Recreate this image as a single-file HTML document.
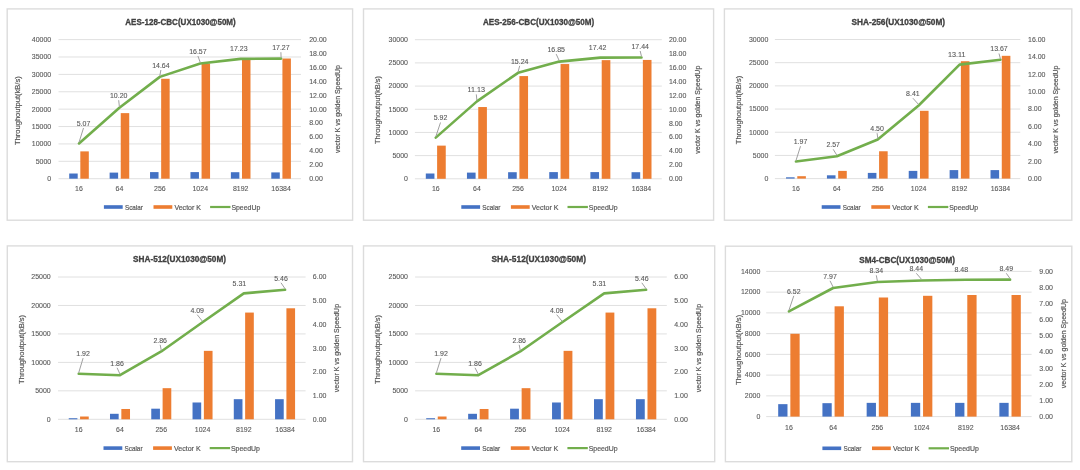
<!DOCTYPE html>
<html><head><meta charset="utf-8"><title>Charts</title>
<style>html,body{margin:0;padding:0;background:#fff;width:1080px;height:470px;overflow:hidden;position:relative}</style>
</head><body>
<svg width="1080" height="470" viewBox="0 0 1080 470" style="position:absolute;left:0;top:0;display:block;filter:blur(0.45px)">
<rect x="0" y="0" width="1080" height="470" fill="#fff"/>
<rect x="7.20" y="8.90" width="345.40" height="211.30" fill="#fff" stroke="#dcdcdc" stroke-width="1.4"/>
<text x="125.3" y="25.3" font-family='"Liberation Sans", sans-serif' font-size="8.4" font-weight="bold" fill="#404040" stroke="#404040" stroke-width="0.3" textLength="110.4" lengthAdjust="spacingAndGlyphs">AES-128-CBC(UX1030@50M)</text>
<line x1="58.5" y1="178.70" x2="301.0" y2="178.70" stroke="#e0e0e0" stroke-width="1"/>
<text x="51.20" y="181.05" text-anchor="end" font-family='"Liberation Sans", sans-serif' font-size="8.1" fill="#595959" stroke="#595959" stroke-width="0.12" textLength="3.89" lengthAdjust="spacingAndGlyphs">0</text>
<line x1="58.5" y1="161.31" x2="301.0" y2="161.31" stroke="#e0e0e0" stroke-width="1"/>
<text x="51.20" y="163.66" text-anchor="end" font-family='"Liberation Sans", sans-serif' font-size="8.1" fill="#595959" stroke="#595959" stroke-width="0.12" textLength="15.57" lengthAdjust="spacingAndGlyphs">5000</text>
<line x1="58.5" y1="143.92" x2="301.0" y2="143.92" stroke="#e0e0e0" stroke-width="1"/>
<text x="51.20" y="146.27" text-anchor="end" font-family='"Liberation Sans", sans-serif' font-size="8.1" fill="#595959" stroke="#595959" stroke-width="0.12" textLength="19.46" lengthAdjust="spacingAndGlyphs">10000</text>
<line x1="58.5" y1="126.54" x2="301.0" y2="126.54" stroke="#e0e0e0" stroke-width="1"/>
<text x="51.20" y="128.89" text-anchor="end" font-family='"Liberation Sans", sans-serif' font-size="8.1" fill="#595959" stroke="#595959" stroke-width="0.12" textLength="19.46" lengthAdjust="spacingAndGlyphs">15000</text>
<line x1="58.5" y1="109.15" x2="301.0" y2="109.15" stroke="#e0e0e0" stroke-width="1"/>
<text x="51.20" y="111.50" text-anchor="end" font-family='"Liberation Sans", sans-serif' font-size="8.1" fill="#595959" stroke="#595959" stroke-width="0.12" textLength="19.46" lengthAdjust="spacingAndGlyphs">20000</text>
<line x1="58.5" y1="91.76" x2="301.0" y2="91.76" stroke="#e0e0e0" stroke-width="1"/>
<text x="51.20" y="94.11" text-anchor="end" font-family='"Liberation Sans", sans-serif' font-size="8.1" fill="#595959" stroke="#595959" stroke-width="0.12" textLength="19.46" lengthAdjust="spacingAndGlyphs">25000</text>
<line x1="58.5" y1="74.38" x2="301.0" y2="74.38" stroke="#e0e0e0" stroke-width="1"/>
<text x="51.20" y="76.72" text-anchor="end" font-family='"Liberation Sans", sans-serif' font-size="8.1" fill="#595959" stroke="#595959" stroke-width="0.12" textLength="19.46" lengthAdjust="spacingAndGlyphs">30000</text>
<line x1="58.5" y1="56.99" x2="301.0" y2="56.99" stroke="#e0e0e0" stroke-width="1"/>
<text x="51.20" y="59.34" text-anchor="end" font-family='"Liberation Sans", sans-serif' font-size="8.1" fill="#595959" stroke="#595959" stroke-width="0.12" textLength="19.46" lengthAdjust="spacingAndGlyphs">35000</text>
<line x1="58.5" y1="39.60" x2="301.0" y2="39.60" stroke="#e0e0e0" stroke-width="1"/>
<text x="51.20" y="41.95" text-anchor="end" font-family='"Liberation Sans", sans-serif' font-size="8.1" fill="#595959" stroke="#595959" stroke-width="0.12" textLength="19.46" lengthAdjust="spacingAndGlyphs">40000</text>
<text x="309.20" y="181.05" font-family='"Liberation Sans", sans-serif' font-size="8.1" fill="#595959" stroke="#595959" stroke-width="0.12" textLength="13.62" lengthAdjust="spacingAndGlyphs">0.00</text>
<text x="309.20" y="167.14" font-family='"Liberation Sans", sans-serif' font-size="8.1" fill="#595959" stroke="#595959" stroke-width="0.12" textLength="13.62" lengthAdjust="spacingAndGlyphs">2.00</text>
<text x="309.20" y="153.23" font-family='"Liberation Sans", sans-serif' font-size="8.1" fill="#595959" stroke="#595959" stroke-width="0.12" textLength="13.62" lengthAdjust="spacingAndGlyphs">4.00</text>
<text x="309.20" y="139.32" font-family='"Liberation Sans", sans-serif' font-size="8.1" fill="#595959" stroke="#595959" stroke-width="0.12" textLength="13.62" lengthAdjust="spacingAndGlyphs">6.00</text>
<text x="309.20" y="125.41" font-family='"Liberation Sans", sans-serif' font-size="8.1" fill="#595959" stroke="#595959" stroke-width="0.12" textLength="13.62" lengthAdjust="spacingAndGlyphs">8.00</text>
<text x="309.20" y="111.50" font-family='"Liberation Sans", sans-serif' font-size="8.1" fill="#595959" stroke="#595959" stroke-width="0.12" textLength="17.51" lengthAdjust="spacingAndGlyphs">10.00</text>
<text x="309.20" y="97.59" font-family='"Liberation Sans", sans-serif' font-size="8.1" fill="#595959" stroke="#595959" stroke-width="0.12" textLength="17.51" lengthAdjust="spacingAndGlyphs">12.00</text>
<text x="309.20" y="83.68" font-family='"Liberation Sans", sans-serif' font-size="8.1" fill="#595959" stroke="#595959" stroke-width="0.12" textLength="17.51" lengthAdjust="spacingAndGlyphs">14.00</text>
<text x="309.20" y="69.77" font-family='"Liberation Sans", sans-serif' font-size="8.1" fill="#595959" stroke="#595959" stroke-width="0.12" textLength="17.51" lengthAdjust="spacingAndGlyphs">16.00</text>
<text x="309.20" y="55.86" font-family='"Liberation Sans", sans-serif' font-size="8.1" fill="#595959" stroke="#595959" stroke-width="0.12" textLength="17.51" lengthAdjust="spacingAndGlyphs">18.00</text>
<text x="309.20" y="41.95" font-family='"Liberation Sans", sans-serif' font-size="8.1" fill="#595959" stroke="#595959" stroke-width="0.12" textLength="17.51" lengthAdjust="spacingAndGlyphs">20.00</text>
<rect x="69.21" y="173.51" width="8.49" height="5.19" fill="#4472c4"/>
<rect x="80.32" y="151.38" width="8.49" height="27.32" fill="#ed7d31"/>
<text x="79.01" y="191.15" text-anchor="middle" font-family='"Liberation Sans", sans-serif' font-size="8.1" fill="#595959" stroke="#595959" stroke-width="0.12" textLength="7.78" lengthAdjust="spacingAndGlyphs">16</text>
<rect x="109.62" y="172.61" width="8.49" height="6.09" fill="#4472c4"/>
<rect x="120.74" y="113.13" width="8.49" height="65.57" fill="#ed7d31"/>
<text x="119.42" y="191.15" text-anchor="middle" font-family='"Liberation Sans", sans-serif' font-size="8.1" fill="#595959" stroke="#595959" stroke-width="0.12" textLength="7.78" lengthAdjust="spacingAndGlyphs">64</text>
<rect x="150.04" y="172.11" width="8.49" height="6.59" fill="#4472c4"/>
<rect x="161.16" y="78.77" width="8.49" height="99.93" fill="#ed7d31"/>
<text x="159.84" y="191.15" text-anchor="middle" font-family='"Liberation Sans", sans-serif' font-size="8.1" fill="#595959" stroke="#595959" stroke-width="0.12" textLength="11.68" lengthAdjust="spacingAndGlyphs">256</text>
<rect x="190.46" y="172.11" width="8.49" height="6.59" fill="#4472c4"/>
<rect x="201.57" y="63.43" width="8.49" height="115.27" fill="#ed7d31"/>
<text x="200.26" y="191.15" text-anchor="middle" font-family='"Liberation Sans", sans-serif' font-size="8.1" fill="#595959" stroke="#595959" stroke-width="0.12" textLength="15.57" lengthAdjust="spacingAndGlyphs">1024</text>
<rect x="230.87" y="172.21" width="8.49" height="6.49" fill="#4472c4"/>
<rect x="241.99" y="59.11" width="8.49" height="119.59" fill="#ed7d31"/>
<text x="240.68" y="191.15" text-anchor="middle" font-family='"Liberation Sans", sans-serif' font-size="8.1" fill="#595959" stroke="#595959" stroke-width="0.12" textLength="15.57" lengthAdjust="spacingAndGlyphs">8192</text>
<rect x="271.29" y="172.41" width="8.49" height="6.29" fill="#4472c4"/>
<rect x="282.41" y="58.51" width="8.49" height="120.19" fill="#ed7d31"/>
<text x="281.09" y="191.15" text-anchor="middle" font-family='"Liberation Sans", sans-serif' font-size="8.1" fill="#595959" stroke="#595959" stroke-width="0.12" textLength="19.46" lengthAdjust="spacingAndGlyphs">16384</text>
<polyline points="79.01,143.44 119.42,107.76 159.84,76.88 200.26,63.46 240.68,58.87 281.09,58.59" fill="none" stroke="#72ae4c" stroke-width="2.6" stroke-linejoin="round" stroke-linecap="round"/>
<text x="83.50" y="125.85" text-anchor="middle" font-family='"Liberation Sans", sans-serif' font-size="8.1" fill="#595959" stroke="#595959" stroke-width="0.12" textLength="13.62" lengthAdjust="spacingAndGlyphs">5.07</text>
<line x1="79.0" y1="142.4" x2="83.5" y2="128.0" stroke="#a0a0a0" stroke-width="1.0"/>
<text x="118.70" y="98.05" text-anchor="middle" font-family='"Liberation Sans", sans-serif' font-size="8.1" fill="#595959" stroke="#595959" stroke-width="0.12" textLength="17.51" lengthAdjust="spacingAndGlyphs">10.20</text>
<line x1="119.4" y1="106.8" x2="118.7" y2="100.2" stroke="#a0a0a0" stroke-width="1.0"/>
<text x="160.90" y="67.85" text-anchor="middle" font-family='"Liberation Sans", sans-serif' font-size="8.1" fill="#595959" stroke="#595959" stroke-width="0.12" textLength="17.51" lengthAdjust="spacingAndGlyphs">14.64</text>
<line x1="159.8" y1="75.9" x2="160.9" y2="70.0" stroke="#a0a0a0" stroke-width="1.0"/>
<text x="197.90" y="53.85" text-anchor="middle" font-family='"Liberation Sans", sans-serif' font-size="8.1" fill="#595959" stroke="#595959" stroke-width="0.12" textLength="17.51" lengthAdjust="spacingAndGlyphs">16.57</text>
<line x1="200.3" y1="62.5" x2="197.9" y2="56.0" stroke="#a0a0a0" stroke-width="1.0"/>
<text x="238.80" y="51.25" text-anchor="middle" font-family='"Liberation Sans", sans-serif' font-size="8.1" fill="#595959" stroke="#595959" stroke-width="0.12" textLength="17.51" lengthAdjust="spacingAndGlyphs">17.23</text>
<text x="280.90" y="50.05" text-anchor="middle" font-family='"Liberation Sans", sans-serif' font-size="8.1" fill="#595959" stroke="#595959" stroke-width="0.12" textLength="17.51" lengthAdjust="spacingAndGlyphs">17.27</text>
<line x1="281.1" y1="57.6" x2="280.9" y2="52.2" stroke="#a0a0a0" stroke-width="1.0"/>
<text transform="translate(19.5,110.6) rotate(-90)" x="0" y="0" text-anchor="middle" font-family='"Liberation Sans", sans-serif' font-size="7.6" fill="#595959" stroke="#595959" stroke-width="0.2" textLength="68.7" lengthAdjust="spacingAndGlyphs">Throughoutput(kB/s)</text>
<text transform="translate(339.5,109.1) rotate(-90)" x="0" y="0" text-anchor="middle" font-family='"Liberation Sans", sans-serif' font-size="7.3" fill="#595959" stroke="#595959" stroke-width="0.2" textLength="87.8" lengthAdjust="spacingAndGlyphs">vector K vs golden SpeedUp</text>
<rect x="103.9" y="205.2" width="18.8" height="3.6" fill="#4472c4"/>
<text x="124.9" y="209.5" font-family='"Liberation Sans", sans-serif' font-size="7.4" fill="#595959" stroke="#595959" stroke-width="0.2" textLength="18" lengthAdjust="spacingAndGlyphs">Scalar</text>
<rect x="153.5" y="205.2" width="18.8" height="3.6" fill="#ed7d31"/>
<text x="174.4" y="209.5" font-family='"Liberation Sans", sans-serif' font-size="7.4" fill="#595959" stroke="#595959" stroke-width="0.2" textLength="26.6" lengthAdjust="spacingAndGlyphs">Vector K</text>
<line x1="210.1" y1="207.0" x2="230.5" y2="207.0" stroke="#72ae4c" stroke-width="2.2"/>
<text x="231.4" y="209.5" font-family='"Liberation Sans", sans-serif' font-size="7.4" fill="#595959" stroke="#595959" stroke-width="0.2" textLength="28.9" lengthAdjust="spacingAndGlyphs">SpeedUp</text>
<rect x="363.50" y="8.90" width="350.10" height="211.30" fill="#fff" stroke="#dcdcdc" stroke-width="1.4"/>
<text x="483.0" y="25.3" font-family='"Liberation Sans", sans-serif' font-size="8.4" font-weight="bold" fill="#404040" stroke="#404040" stroke-width="0.3" textLength="111.2" lengthAdjust="spacingAndGlyphs">AES-256-CBC(UX1030@50M)</text>
<line x1="414.9" y1="178.80" x2="661.8" y2="178.80" stroke="#e0e0e0" stroke-width="1"/>
<text x="408.00" y="181.15" text-anchor="end" font-family='"Liberation Sans", sans-serif' font-size="8.1" fill="#595959" stroke="#595959" stroke-width="0.12" textLength="3.89" lengthAdjust="spacingAndGlyphs">0</text>
<line x1="414.9" y1="155.62" x2="661.8" y2="155.62" stroke="#e0e0e0" stroke-width="1"/>
<text x="408.00" y="157.97" text-anchor="end" font-family='"Liberation Sans", sans-serif' font-size="8.1" fill="#595959" stroke="#595959" stroke-width="0.12" textLength="15.57" lengthAdjust="spacingAndGlyphs">5000</text>
<line x1="414.9" y1="132.43" x2="661.8" y2="132.43" stroke="#e0e0e0" stroke-width="1"/>
<text x="408.00" y="134.78" text-anchor="end" font-family='"Liberation Sans", sans-serif' font-size="8.1" fill="#595959" stroke="#595959" stroke-width="0.12" textLength="19.46" lengthAdjust="spacingAndGlyphs">10000</text>
<line x1="414.9" y1="109.25" x2="661.8" y2="109.25" stroke="#e0e0e0" stroke-width="1"/>
<text x="408.00" y="111.60" text-anchor="end" font-family='"Liberation Sans", sans-serif' font-size="8.1" fill="#595959" stroke="#595959" stroke-width="0.12" textLength="19.46" lengthAdjust="spacingAndGlyphs">15000</text>
<line x1="414.9" y1="86.07" x2="661.8" y2="86.07" stroke="#e0e0e0" stroke-width="1"/>
<text x="408.00" y="88.42" text-anchor="end" font-family='"Liberation Sans", sans-serif' font-size="8.1" fill="#595959" stroke="#595959" stroke-width="0.12" textLength="19.46" lengthAdjust="spacingAndGlyphs">20000</text>
<line x1="414.9" y1="62.88" x2="661.8" y2="62.88" stroke="#e0e0e0" stroke-width="1"/>
<text x="408.00" y="65.23" text-anchor="end" font-family='"Liberation Sans", sans-serif' font-size="8.1" fill="#595959" stroke="#595959" stroke-width="0.12" textLength="19.46" lengthAdjust="spacingAndGlyphs">25000</text>
<line x1="414.9" y1="39.70" x2="661.8" y2="39.70" stroke="#e0e0e0" stroke-width="1"/>
<text x="408.00" y="42.05" text-anchor="end" font-family='"Liberation Sans", sans-serif' font-size="8.1" fill="#595959" stroke="#595959" stroke-width="0.12" textLength="19.46" lengthAdjust="spacingAndGlyphs">30000</text>
<text x="668.90" y="181.15" font-family='"Liberation Sans", sans-serif' font-size="8.1" fill="#595959" stroke="#595959" stroke-width="0.12" textLength="13.62" lengthAdjust="spacingAndGlyphs">0.00</text>
<text x="668.90" y="167.24" font-family='"Liberation Sans", sans-serif' font-size="8.1" fill="#595959" stroke="#595959" stroke-width="0.12" textLength="13.62" lengthAdjust="spacingAndGlyphs">2.00</text>
<text x="668.90" y="153.33" font-family='"Liberation Sans", sans-serif' font-size="8.1" fill="#595959" stroke="#595959" stroke-width="0.12" textLength="13.62" lengthAdjust="spacingAndGlyphs">4.00</text>
<text x="668.90" y="139.42" font-family='"Liberation Sans", sans-serif' font-size="8.1" fill="#595959" stroke="#595959" stroke-width="0.12" textLength="13.62" lengthAdjust="spacingAndGlyphs">6.00</text>
<text x="668.90" y="125.51" font-family='"Liberation Sans", sans-serif' font-size="8.1" fill="#595959" stroke="#595959" stroke-width="0.12" textLength="13.62" lengthAdjust="spacingAndGlyphs">8.00</text>
<text x="668.90" y="111.60" font-family='"Liberation Sans", sans-serif' font-size="8.1" fill="#595959" stroke="#595959" stroke-width="0.12" textLength="17.51" lengthAdjust="spacingAndGlyphs">10.00</text>
<text x="668.90" y="97.69" font-family='"Liberation Sans", sans-serif' font-size="8.1" fill="#595959" stroke="#595959" stroke-width="0.12" textLength="17.51" lengthAdjust="spacingAndGlyphs">12.00</text>
<text x="668.90" y="83.78" font-family='"Liberation Sans", sans-serif' font-size="8.1" fill="#595959" stroke="#595959" stroke-width="0.12" textLength="17.51" lengthAdjust="spacingAndGlyphs">14.00</text>
<text x="668.90" y="69.87" font-family='"Liberation Sans", sans-serif' font-size="8.1" fill="#595959" stroke="#595959" stroke-width="0.12" textLength="17.51" lengthAdjust="spacingAndGlyphs">16.00</text>
<text x="668.90" y="55.96" font-family='"Liberation Sans", sans-serif' font-size="8.1" fill="#595959" stroke="#595959" stroke-width="0.12" textLength="17.51" lengthAdjust="spacingAndGlyphs">18.00</text>
<text x="668.90" y="42.05" font-family='"Liberation Sans", sans-serif' font-size="8.1" fill="#595959" stroke="#595959" stroke-width="0.12" textLength="17.51" lengthAdjust="spacingAndGlyphs">20.00</text>
<rect x="425.80" y="173.50" width="8.64" height="5.30" fill="#4472c4"/>
<rect x="437.11" y="145.63" width="8.64" height="33.17" fill="#ed7d31"/>
<text x="435.77" y="191.25" text-anchor="middle" font-family='"Liberation Sans", sans-serif' font-size="8.1" fill="#595959" stroke="#595959" stroke-width="0.12" textLength="7.78" lengthAdjust="spacingAndGlyphs">16</text>
<rect x="466.95" y="172.61" width="8.64" height="6.19" fill="#4472c4"/>
<rect x="478.26" y="107.04" width="8.64" height="71.76" fill="#ed7d31"/>
<text x="476.93" y="191.25" text-anchor="middle" font-family='"Liberation Sans", sans-serif' font-size="8.1" fill="#595959" stroke="#595959" stroke-width="0.12" textLength="7.78" lengthAdjust="spacingAndGlyphs">64</text>
<rect x="508.10" y="172.21" width="8.64" height="6.59" fill="#4472c4"/>
<rect x="519.41" y="76.08" width="8.64" height="102.72" fill="#ed7d31"/>
<text x="518.07" y="191.25" text-anchor="middle" font-family='"Liberation Sans", sans-serif' font-size="8.1" fill="#595959" stroke="#595959" stroke-width="0.12" textLength="11.68" lengthAdjust="spacingAndGlyphs">256</text>
<rect x="549.25" y="172.10" width="8.64" height="6.70" fill="#4472c4"/>
<rect x="560.56" y="64.05" width="8.64" height="114.75" fill="#ed7d31"/>
<text x="559.22" y="191.25" text-anchor="middle" font-family='"Liberation Sans", sans-serif' font-size="8.1" fill="#595959" stroke="#595959" stroke-width="0.12" textLength="15.57" lengthAdjust="spacingAndGlyphs">1024</text>
<rect x="590.40" y="172.10" width="8.64" height="6.70" fill="#4472c4"/>
<rect x="601.71" y="60.15" width="8.64" height="118.65" fill="#ed7d31"/>
<text x="600.37" y="191.25" text-anchor="middle" font-family='"Liberation Sans", sans-serif' font-size="8.1" fill="#595959" stroke="#595959" stroke-width="0.12" textLength="15.57" lengthAdjust="spacingAndGlyphs">8192</text>
<rect x="631.55" y="172.21" width="8.64" height="6.59" fill="#4472c4"/>
<rect x="642.86" y="59.94" width="8.64" height="118.86" fill="#ed7d31"/>
<text x="641.52" y="191.25" text-anchor="middle" font-family='"Liberation Sans", sans-serif' font-size="8.1" fill="#595959" stroke="#595959" stroke-width="0.12" textLength="19.46" lengthAdjust="spacingAndGlyphs">16384</text>
<polyline points="435.77,137.63 476.93,101.39 518.07,72.81 559.22,61.61 600.37,57.64 641.52,57.50" fill="none" stroke="#72ae4c" stroke-width="2.6" stroke-linejoin="round" stroke-linecap="round"/>
<text x="440.50" y="120.35" text-anchor="middle" font-family='"Liberation Sans", sans-serif' font-size="8.1" fill="#595959" stroke="#595959" stroke-width="0.12" textLength="13.62" lengthAdjust="spacingAndGlyphs">5.92</text>
<line x1="435.8" y1="136.6" x2="440.5" y2="122.5" stroke="#a0a0a0" stroke-width="1.0"/>
<text x="476.30" y="92.25" text-anchor="middle" font-family='"Liberation Sans", sans-serif' font-size="8.1" fill="#595959" stroke="#595959" stroke-width="0.12" textLength="17.51" lengthAdjust="spacingAndGlyphs">11.13</text>
<line x1="476.9" y1="100.4" x2="476.3" y2="94.4" stroke="#a0a0a0" stroke-width="1.0"/>
<text x="519.70" y="63.65" text-anchor="middle" font-family='"Liberation Sans", sans-serif' font-size="8.1" fill="#595959" stroke="#595959" stroke-width="0.12" textLength="17.51" lengthAdjust="spacingAndGlyphs">15.24</text>
<line x1="518.1" y1="71.8" x2="519.7" y2="65.8" stroke="#a0a0a0" stroke-width="1.0"/>
<text x="556.20" y="51.95" text-anchor="middle" font-family='"Liberation Sans", sans-serif' font-size="8.1" fill="#595959" stroke="#595959" stroke-width="0.12" textLength="17.51" lengthAdjust="spacingAndGlyphs">16.85</text>
<line x1="559.2" y1="60.6" x2="556.2" y2="54.1" stroke="#a0a0a0" stroke-width="1.0"/>
<text x="597.60" y="49.65" text-anchor="middle" font-family='"Liberation Sans", sans-serif' font-size="8.1" fill="#595959" stroke="#595959" stroke-width="0.12" textLength="17.51" lengthAdjust="spacingAndGlyphs">17.42</text>
<text x="640.20" y="48.85" text-anchor="middle" font-family='"Liberation Sans", sans-serif' font-size="8.1" fill="#595959" stroke="#595959" stroke-width="0.12" textLength="17.51" lengthAdjust="spacingAndGlyphs">17.44</text>
<line x1="641.5" y1="56.5" x2="640.2" y2="51.0" stroke="#a0a0a0" stroke-width="1.0"/>
<text transform="translate(380.2,110.0) rotate(-90)" x="0" y="0" text-anchor="middle" font-family='"Liberation Sans", sans-serif' font-size="7.6" fill="#595959" stroke="#595959" stroke-width="0.2" textLength="68.0" lengthAdjust="spacingAndGlyphs">Throughoutput(kB/s)</text>
<text transform="translate(699.5,109.8) rotate(-90)" x="0" y="0" text-anchor="middle" font-family='"Liberation Sans", sans-serif' font-size="7.3" fill="#595959" stroke="#595959" stroke-width="0.2" textLength="88.1" lengthAdjust="spacingAndGlyphs">vector K vs golden SpeedUp</text>
<rect x="461.3" y="205.2" width="18.8" height="3.6" fill="#4472c4"/>
<text x="482.3" y="209.5" font-family='"Liberation Sans", sans-serif' font-size="7.4" fill="#595959" stroke="#595959" stroke-width="0.2" textLength="18" lengthAdjust="spacingAndGlyphs">Scalar</text>
<rect x="510.9" y="205.2" width="18.8" height="3.6" fill="#ed7d31"/>
<text x="531.8" y="209.5" font-family='"Liberation Sans", sans-serif' font-size="7.4" fill="#595959" stroke="#595959" stroke-width="0.2" textLength="26.6" lengthAdjust="spacingAndGlyphs">Vector K</text>
<line x1="567.5" y1="207.0" x2="587.9" y2="207.0" stroke="#72ae4c" stroke-width="2.2"/>
<text x="588.8" y="209.5" font-family='"Liberation Sans", sans-serif' font-size="7.4" fill="#595959" stroke="#595959" stroke-width="0.2" textLength="28.9" lengthAdjust="spacingAndGlyphs">SpeedUp</text>
<rect x="724.40" y="8.90" width="347.40" height="211.30" fill="#fff" stroke="#dcdcdc" stroke-width="1.4"/>
<text x="851.4" y="25.3" font-family='"Liberation Sans", sans-serif' font-size="8.4" font-weight="bold" fill="#404040" stroke="#404040" stroke-width="0.3" textLength="93.7" lengthAdjust="spacingAndGlyphs">SHA-256(UX1030@50M)</text>
<line x1="774.9" y1="178.60" x2="1020.3" y2="178.60" stroke="#e0e0e0" stroke-width="1"/>
<text x="768.40" y="180.95" text-anchor="end" font-family='"Liberation Sans", sans-serif' font-size="8.1" fill="#595959" stroke="#595959" stroke-width="0.12" textLength="3.89" lengthAdjust="spacingAndGlyphs">0</text>
<line x1="774.9" y1="155.42" x2="1020.3" y2="155.42" stroke="#e0e0e0" stroke-width="1"/>
<text x="768.40" y="157.77" text-anchor="end" font-family='"Liberation Sans", sans-serif' font-size="8.1" fill="#595959" stroke="#595959" stroke-width="0.12" textLength="15.57" lengthAdjust="spacingAndGlyphs">5000</text>
<line x1="774.9" y1="132.23" x2="1020.3" y2="132.23" stroke="#e0e0e0" stroke-width="1"/>
<text x="768.40" y="134.58" text-anchor="end" font-family='"Liberation Sans", sans-serif' font-size="8.1" fill="#595959" stroke="#595959" stroke-width="0.12" textLength="19.46" lengthAdjust="spacingAndGlyphs">10000</text>
<line x1="774.9" y1="109.05" x2="1020.3" y2="109.05" stroke="#e0e0e0" stroke-width="1"/>
<text x="768.40" y="111.40" text-anchor="end" font-family='"Liberation Sans", sans-serif' font-size="8.1" fill="#595959" stroke="#595959" stroke-width="0.12" textLength="19.46" lengthAdjust="spacingAndGlyphs">15000</text>
<line x1="774.9" y1="85.87" x2="1020.3" y2="85.87" stroke="#e0e0e0" stroke-width="1"/>
<text x="768.40" y="88.22" text-anchor="end" font-family='"Liberation Sans", sans-serif' font-size="8.1" fill="#595959" stroke="#595959" stroke-width="0.12" textLength="19.46" lengthAdjust="spacingAndGlyphs">20000</text>
<line x1="774.9" y1="62.68" x2="1020.3" y2="62.68" stroke="#e0e0e0" stroke-width="1"/>
<text x="768.40" y="65.03" text-anchor="end" font-family='"Liberation Sans", sans-serif' font-size="8.1" fill="#595959" stroke="#595959" stroke-width="0.12" textLength="19.46" lengthAdjust="spacingAndGlyphs">25000</text>
<line x1="774.9" y1="39.50" x2="1020.3" y2="39.50" stroke="#e0e0e0" stroke-width="1"/>
<text x="768.40" y="41.85" text-anchor="end" font-family='"Liberation Sans", sans-serif' font-size="8.1" fill="#595959" stroke="#595959" stroke-width="0.12" textLength="19.46" lengthAdjust="spacingAndGlyphs">30000</text>
<text x="1028.00" y="180.95" font-family='"Liberation Sans", sans-serif' font-size="8.1" fill="#595959" stroke="#595959" stroke-width="0.12" textLength="13.62" lengthAdjust="spacingAndGlyphs">0.00</text>
<text x="1028.00" y="163.56" font-family='"Liberation Sans", sans-serif' font-size="8.1" fill="#595959" stroke="#595959" stroke-width="0.12" textLength="13.62" lengthAdjust="spacingAndGlyphs">2.00</text>
<text x="1028.00" y="146.17" font-family='"Liberation Sans", sans-serif' font-size="8.1" fill="#595959" stroke="#595959" stroke-width="0.12" textLength="13.62" lengthAdjust="spacingAndGlyphs">4.00</text>
<text x="1028.00" y="128.79" font-family='"Liberation Sans", sans-serif' font-size="8.1" fill="#595959" stroke="#595959" stroke-width="0.12" textLength="13.62" lengthAdjust="spacingAndGlyphs">6.00</text>
<text x="1028.00" y="111.40" font-family='"Liberation Sans", sans-serif' font-size="8.1" fill="#595959" stroke="#595959" stroke-width="0.12" textLength="13.62" lengthAdjust="spacingAndGlyphs">8.00</text>
<text x="1028.00" y="94.01" font-family='"Liberation Sans", sans-serif' font-size="8.1" fill="#595959" stroke="#595959" stroke-width="0.12" textLength="17.51" lengthAdjust="spacingAndGlyphs">10.00</text>
<text x="1028.00" y="76.62" font-family='"Liberation Sans", sans-serif' font-size="8.1" fill="#595959" stroke="#595959" stroke-width="0.12" textLength="17.51" lengthAdjust="spacingAndGlyphs">12.00</text>
<text x="1028.00" y="59.24" font-family='"Liberation Sans", sans-serif' font-size="8.1" fill="#595959" stroke="#595959" stroke-width="0.12" textLength="17.51" lengthAdjust="spacingAndGlyphs">14.00</text>
<text x="1028.00" y="41.85" font-family='"Liberation Sans", sans-serif' font-size="8.1" fill="#595959" stroke="#595959" stroke-width="0.12" textLength="17.51" lengthAdjust="spacingAndGlyphs">16.00</text>
<rect x="786.03" y="177.30" width="8.59" height="1.30" fill="#4472c4"/>
<rect x="797.28" y="176.20" width="8.59" height="2.40" fill="#ed7d31"/>
<text x="795.95" y="191.25" text-anchor="middle" font-family='"Liberation Sans", sans-serif' font-size="8.1" fill="#595959" stroke="#595959" stroke-width="0.12" textLength="7.78" lengthAdjust="spacingAndGlyphs">16</text>
<rect x="826.93" y="175.30" width="8.59" height="3.30" fill="#4472c4"/>
<rect x="838.18" y="170.89" width="8.59" height="7.71" fill="#ed7d31"/>
<text x="836.85" y="191.25" text-anchor="middle" font-family='"Liberation Sans", sans-serif' font-size="8.1" fill="#595959" stroke="#595959" stroke-width="0.12" textLength="7.78" lengthAdjust="spacingAndGlyphs">64</text>
<rect x="867.83" y="172.90" width="8.59" height="5.70" fill="#4472c4"/>
<rect x="879.08" y="151.26" width="8.59" height="27.34" fill="#ed7d31"/>
<text x="877.75" y="191.25" text-anchor="middle" font-family='"Liberation Sans", sans-serif' font-size="8.1" fill="#595959" stroke="#595959" stroke-width="0.12" textLength="11.68" lengthAdjust="spacingAndGlyphs">256</text>
<rect x="908.73" y="170.89" width="8.59" height="7.71" fill="#4472c4"/>
<rect x="919.98" y="110.80" width="8.59" height="67.80" fill="#ed7d31"/>
<text x="918.65" y="191.25" text-anchor="middle" font-family='"Liberation Sans", sans-serif' font-size="8.1" fill="#595959" stroke="#595959" stroke-width="0.12" textLength="15.57" lengthAdjust="spacingAndGlyphs">1024</text>
<rect x="949.63" y="170.10" width="8.59" height="8.50" fill="#4472c4"/>
<rect x="960.88" y="61.23" width="8.59" height="117.37" fill="#ed7d31"/>
<text x="959.55" y="191.25" text-anchor="middle" font-family='"Liberation Sans", sans-serif' font-size="8.1" fill="#595959" stroke="#595959" stroke-width="0.12" textLength="15.57" lengthAdjust="spacingAndGlyphs">8192</text>
<rect x="990.53" y="170.10" width="8.59" height="8.50" fill="#4472c4"/>
<rect x="1001.78" y="55.83" width="8.59" height="122.77" fill="#ed7d31"/>
<text x="1000.45" y="191.25" text-anchor="middle" font-family='"Liberation Sans", sans-serif' font-size="8.1" fill="#595959" stroke="#595959" stroke-width="0.12" textLength="19.46" lengthAdjust="spacingAndGlyphs">16384</text>
<polyline points="795.95,161.47 836.85,156.26 877.75,139.48 918.65,105.49 959.55,64.62 1000.45,59.76" fill="none" stroke="#72ae4c" stroke-width="2.6" stroke-linejoin="round" stroke-linecap="round"/>
<text x="800.50" y="144.05" text-anchor="middle" font-family='"Liberation Sans", sans-serif' font-size="8.1" fill="#595959" stroke="#595959" stroke-width="0.12" textLength="13.62" lengthAdjust="spacingAndGlyphs">1.97</text>
<line x1="796.0" y1="160.5" x2="800.5" y2="146.2" stroke="#a0a0a0" stroke-width="1.0"/>
<text x="833.20" y="147.15" text-anchor="middle" font-family='"Liberation Sans", sans-serif' font-size="8.1" fill="#595959" stroke="#595959" stroke-width="0.12" textLength="13.62" lengthAdjust="spacingAndGlyphs">2.57</text>
<line x1="836.9" y1="155.3" x2="833.2" y2="149.3" stroke="#a0a0a0" stroke-width="1.0"/>
<text x="877.10" y="131.05" text-anchor="middle" font-family='"Liberation Sans", sans-serif' font-size="8.1" fill="#595959" stroke="#595959" stroke-width="0.12" textLength="13.62" lengthAdjust="spacingAndGlyphs">4.50</text>
<line x1="877.8" y1="138.5" x2="877.1" y2="133.2" stroke="#a0a0a0" stroke-width="1.0"/>
<text x="912.90" y="96.05" text-anchor="middle" font-family='"Liberation Sans", sans-serif' font-size="8.1" fill="#595959" stroke="#595959" stroke-width="0.12" textLength="13.62" lengthAdjust="spacingAndGlyphs">8.41</text>
<line x1="918.6" y1="104.5" x2="912.9" y2="98.2" stroke="#a0a0a0" stroke-width="1.0"/>
<text x="956.80" y="57.25" text-anchor="middle" font-family='"Liberation Sans", sans-serif' font-size="8.1" fill="#595959" stroke="#595959" stroke-width="0.12" textLength="17.51" lengthAdjust="spacingAndGlyphs">13.11</text>
<text x="999.00" y="51.35" text-anchor="middle" font-family='"Liberation Sans", sans-serif' font-size="8.1" fill="#595959" stroke="#595959" stroke-width="0.12" textLength="17.51" lengthAdjust="spacingAndGlyphs">13.67</text>
<line x1="1000.4" y1="58.8" x2="999.0" y2="53.5" stroke="#a0a0a0" stroke-width="1.0"/>
<text transform="translate(740.5,110.0) rotate(-90)" x="0" y="0" text-anchor="middle" font-family='"Liberation Sans", sans-serif' font-size="7.6" fill="#595959" stroke="#595959" stroke-width="0.2" textLength="68.4" lengthAdjust="spacingAndGlyphs">Throughoutput(kB/s)</text>
<text transform="translate(1058.3,109.6) rotate(-90)" x="0" y="0" text-anchor="middle" font-family='"Liberation Sans", sans-serif' font-size="7.3" fill="#595959" stroke="#595959" stroke-width="0.2" textLength="88.0" lengthAdjust="spacingAndGlyphs">vector K vs golden SpeedUp</text>
<rect x="821.7" y="205.2" width="18.8" height="3.6" fill="#4472c4"/>
<text x="842.7" y="209.5" font-family='"Liberation Sans", sans-serif' font-size="7.4" fill="#595959" stroke="#595959" stroke-width="0.2" textLength="18" lengthAdjust="spacingAndGlyphs">Scalar</text>
<rect x="871.3" y="205.2" width="18.8" height="3.6" fill="#ed7d31"/>
<text x="892.2" y="209.5" font-family='"Liberation Sans", sans-serif' font-size="7.4" fill="#595959" stroke="#595959" stroke-width="0.2" textLength="26.6" lengthAdjust="spacingAndGlyphs">Vector K</text>
<line x1="927.9" y1="207.0" x2="948.3" y2="207.0" stroke="#72ae4c" stroke-width="2.2"/>
<text x="949.2" y="209.5" font-family='"Liberation Sans", sans-serif' font-size="7.4" fill="#595959" stroke="#595959" stroke-width="0.2" textLength="28.9" lengthAdjust="spacingAndGlyphs">SpeedUp</text>
<rect x="7.30" y="245.90" width="345.20" height="215.80" fill="#fff" stroke="#dcdcdc" stroke-width="1.4"/>
<text x="133.1" y="262.3" font-family='"Liberation Sans", sans-serif' font-size="8.4" font-weight="bold" fill="#404040" stroke="#404040" stroke-width="0.3" textLength="92.9" lengthAdjust="spacingAndGlyphs">SHA-512(UX1030@50M)</text>
<line x1="58.0" y1="419.30" x2="305.6" y2="419.30" stroke="#e0e0e0" stroke-width="1"/>
<text x="50.70" y="421.65" text-anchor="end" font-family='"Liberation Sans", sans-serif' font-size="8.1" fill="#595959" stroke="#595959" stroke-width="0.12" textLength="3.89" lengthAdjust="spacingAndGlyphs">0</text>
<line x1="58.0" y1="390.84" x2="305.6" y2="390.84" stroke="#e0e0e0" stroke-width="1"/>
<text x="50.70" y="393.19" text-anchor="end" font-family='"Liberation Sans", sans-serif' font-size="8.1" fill="#595959" stroke="#595959" stroke-width="0.12" textLength="15.57" lengthAdjust="spacingAndGlyphs">5000</text>
<line x1="58.0" y1="362.38" x2="305.6" y2="362.38" stroke="#e0e0e0" stroke-width="1"/>
<text x="50.70" y="364.73" text-anchor="end" font-family='"Liberation Sans", sans-serif' font-size="8.1" fill="#595959" stroke="#595959" stroke-width="0.12" textLength="19.46" lengthAdjust="spacingAndGlyphs">10000</text>
<line x1="58.0" y1="333.92" x2="305.6" y2="333.92" stroke="#e0e0e0" stroke-width="1"/>
<text x="50.70" y="336.27" text-anchor="end" font-family='"Liberation Sans", sans-serif' font-size="8.1" fill="#595959" stroke="#595959" stroke-width="0.12" textLength="19.46" lengthAdjust="spacingAndGlyphs">15000</text>
<line x1="58.0" y1="305.46" x2="305.6" y2="305.46" stroke="#e0e0e0" stroke-width="1"/>
<text x="50.70" y="307.81" text-anchor="end" font-family='"Liberation Sans", sans-serif' font-size="8.1" fill="#595959" stroke="#595959" stroke-width="0.12" textLength="19.46" lengthAdjust="spacingAndGlyphs">20000</text>
<line x1="58.0" y1="277.00" x2="305.6" y2="277.00" stroke="#e0e0e0" stroke-width="1"/>
<text x="50.70" y="279.35" text-anchor="end" font-family='"Liberation Sans", sans-serif' font-size="8.1" fill="#595959" stroke="#595959" stroke-width="0.12" textLength="19.46" lengthAdjust="spacingAndGlyphs">25000</text>
<text x="312.80" y="421.65" font-family='"Liberation Sans", sans-serif' font-size="8.1" fill="#595959" stroke="#595959" stroke-width="0.12" textLength="13.62" lengthAdjust="spacingAndGlyphs">0.00</text>
<text x="312.80" y="397.93" font-family='"Liberation Sans", sans-serif' font-size="8.1" fill="#595959" stroke="#595959" stroke-width="0.12" textLength="13.62" lengthAdjust="spacingAndGlyphs">1.00</text>
<text x="312.80" y="374.22" font-family='"Liberation Sans", sans-serif' font-size="8.1" fill="#595959" stroke="#595959" stroke-width="0.12" textLength="13.62" lengthAdjust="spacingAndGlyphs">2.00</text>
<text x="312.80" y="350.50" font-family='"Liberation Sans", sans-serif' font-size="8.1" fill="#595959" stroke="#595959" stroke-width="0.12" textLength="13.62" lengthAdjust="spacingAndGlyphs">3.00</text>
<text x="312.80" y="326.78" font-family='"Liberation Sans", sans-serif' font-size="8.1" fill="#595959" stroke="#595959" stroke-width="0.12" textLength="13.62" lengthAdjust="spacingAndGlyphs">4.00</text>
<text x="312.80" y="303.07" font-family='"Liberation Sans", sans-serif' font-size="8.1" fill="#595959" stroke="#595959" stroke-width="0.12" textLength="13.62" lengthAdjust="spacingAndGlyphs">5.00</text>
<text x="312.80" y="279.35" font-family='"Liberation Sans", sans-serif' font-size="8.1" fill="#595959" stroke="#595959" stroke-width="0.12" textLength="13.62" lengthAdjust="spacingAndGlyphs">6.00</text>
<rect x="68.73" y="418.22" width="8.67" height="1.08" fill="#4472c4"/>
<rect x="80.07" y="416.51" width="8.67" height="2.79" fill="#ed7d31"/>
<text x="78.73" y="431.75" text-anchor="middle" font-family='"Liberation Sans", sans-serif' font-size="8.1" fill="#595959" stroke="#595959" stroke-width="0.12" textLength="7.78" lengthAdjust="spacingAndGlyphs">16</text>
<rect x="109.99" y="413.80" width="8.67" height="5.50" fill="#4472c4"/>
<rect x="121.34" y="408.99" width="8.67" height="10.31" fill="#ed7d31"/>
<text x="120.00" y="431.75" text-anchor="middle" font-family='"Liberation Sans", sans-serif' font-size="8.1" fill="#595959" stroke="#595959" stroke-width="0.12" textLength="7.78" lengthAdjust="spacingAndGlyphs">64</text>
<rect x="151.26" y="408.69" width="8.67" height="10.61" fill="#4472c4"/>
<rect x="162.61" y="388.18" width="8.67" height="31.12" fill="#ed7d31"/>
<text x="161.27" y="431.75" text-anchor="middle" font-family='"Liberation Sans", sans-serif' font-size="8.1" fill="#595959" stroke="#595959" stroke-width="0.12" textLength="11.68" lengthAdjust="spacingAndGlyphs">256</text>
<rect x="192.53" y="402.49" width="8.67" height="16.81" fill="#4472c4"/>
<rect x="203.87" y="350.85" width="8.67" height="68.45" fill="#ed7d31"/>
<text x="202.53" y="431.75" text-anchor="middle" font-family='"Liberation Sans", sans-serif' font-size="8.1" fill="#595959" stroke="#595959" stroke-width="0.12" textLength="15.57" lengthAdjust="spacingAndGlyphs">1024</text>
<rect x="233.79" y="399.18" width="8.67" height="20.12" fill="#4472c4"/>
<rect x="245.14" y="312.57" width="8.67" height="106.73" fill="#ed7d31"/>
<text x="243.80" y="431.75" text-anchor="middle" font-family='"Liberation Sans", sans-serif' font-size="8.1" fill="#595959" stroke="#595959" stroke-width="0.12" textLength="15.57" lengthAdjust="spacingAndGlyphs">8192</text>
<rect x="275.06" y="399.18" width="8.67" height="20.12" fill="#4472c4"/>
<rect x="286.41" y="308.28" width="8.67" height="111.02" fill="#ed7d31"/>
<text x="285.07" y="431.75" text-anchor="middle" font-family='"Liberation Sans", sans-serif' font-size="8.1" fill="#595959" stroke="#595959" stroke-width="0.12" textLength="19.46" lengthAdjust="spacingAndGlyphs">16384</text>
<polyline points="78.73,373.76 120.00,375.19 161.27,351.47 202.53,322.30 243.80,293.36 285.07,289.81" fill="none" stroke="#72ae4c" stroke-width="2.6" stroke-linejoin="round" stroke-linecap="round"/>
<text x="83.10" y="355.95" text-anchor="middle" font-family='"Liberation Sans", sans-serif' font-size="8.1" fill="#595959" stroke="#595959" stroke-width="0.12" textLength="13.62" lengthAdjust="spacingAndGlyphs">1.92</text>
<line x1="78.7" y1="372.8" x2="83.1" y2="358.1" stroke="#a0a0a0" stroke-width="1.0"/>
<text x="117.10" y="365.65" text-anchor="middle" font-family='"Liberation Sans", sans-serif' font-size="8.1" fill="#595959" stroke="#595959" stroke-width="0.12" textLength="13.62" lengthAdjust="spacingAndGlyphs">1.86</text>
<line x1="120.0" y1="374.2" x2="117.1" y2="367.8" stroke="#a0a0a0" stroke-width="1.0"/>
<text x="160.20" y="342.65" text-anchor="middle" font-family='"Liberation Sans", sans-serif' font-size="8.1" fill="#595959" stroke="#595959" stroke-width="0.12" textLength="13.62" lengthAdjust="spacingAndGlyphs">2.86</text>
<line x1="161.3" y1="350.5" x2="160.2" y2="344.8" stroke="#a0a0a0" stroke-width="1.0"/>
<text x="197.20" y="312.55" text-anchor="middle" font-family='"Liberation Sans", sans-serif' font-size="8.1" fill="#595959" stroke="#595959" stroke-width="0.12" textLength="13.62" lengthAdjust="spacingAndGlyphs">4.09</text>
<line x1="202.5" y1="321.3" x2="197.2" y2="314.7" stroke="#a0a0a0" stroke-width="1.0"/>
<text x="239.40" y="285.75" text-anchor="middle" font-family='"Liberation Sans", sans-serif' font-size="8.1" fill="#595959" stroke="#595959" stroke-width="0.12" textLength="13.62" lengthAdjust="spacingAndGlyphs">5.31</text>
<text x="281.00" y="280.65" text-anchor="middle" font-family='"Liberation Sans", sans-serif' font-size="8.1" fill="#595959" stroke="#595959" stroke-width="0.12" textLength="13.62" lengthAdjust="spacingAndGlyphs">5.46</text>
<line x1="285.1" y1="288.8" x2="281.0" y2="282.8" stroke="#a0a0a0" stroke-width="1.0"/>
<text transform="translate(24.2,349.4) rotate(-90)" x="0" y="0" text-anchor="middle" font-family='"Liberation Sans", sans-serif' font-size="7.6" fill="#595959" stroke="#595959" stroke-width="0.2" textLength="69.1" lengthAdjust="spacingAndGlyphs">Throughoutput(kB/s)</text>
<text transform="translate(339.0,348.1) rotate(-90)" x="0" y="0" text-anchor="middle" font-family='"Liberation Sans", sans-serif' font-size="7.3" fill="#595959" stroke="#595959" stroke-width="0.2" textLength="88.2" lengthAdjust="spacingAndGlyphs">vector K vs golden SpeedUp</text>
<rect x="103.5" y="446.3" width="18.8" height="3.6" fill="#4472c4"/>
<text x="124.5" y="450.6" font-family='"Liberation Sans", sans-serif' font-size="7.4" fill="#595959" stroke="#595959" stroke-width="0.2" textLength="18" lengthAdjust="spacingAndGlyphs">Scalar</text>
<rect x="153.1" y="446.3" width="18.8" height="3.6" fill="#ed7d31"/>
<text x="174.0" y="450.6" font-family='"Liberation Sans", sans-serif' font-size="7.4" fill="#595959" stroke="#595959" stroke-width="0.2" textLength="26.6" lengthAdjust="spacingAndGlyphs">Vector K</text>
<line x1="209.7" y1="448.1" x2="230.1" y2="448.1" stroke="#72ae4c" stroke-width="2.2"/>
<text x="231.0" y="450.6" font-family='"Liberation Sans", sans-serif' font-size="7.4" fill="#595959" stroke="#595959" stroke-width="0.2" textLength="28.9" lengthAdjust="spacingAndGlyphs">SpeedUp</text>
<rect x="363.50" y="245.90" width="351.20" height="215.80" fill="#fff" stroke="#dcdcdc" stroke-width="1.4"/>
<text x="491.4" y="262.3" font-family='"Liberation Sans", sans-serif' font-size="8.4" font-weight="bold" fill="#404040" stroke="#404040" stroke-width="0.3" textLength="94.6" lengthAdjust="spacingAndGlyphs">SHA-512(UX1030@50M)</text>
<line x1="415.1" y1="419.30" x2="666.8" y2="419.30" stroke="#e0e0e0" stroke-width="1"/>
<text x="408.00" y="421.65" text-anchor="end" font-family='"Liberation Sans", sans-serif' font-size="8.1" fill="#595959" stroke="#595959" stroke-width="0.12" textLength="3.89" lengthAdjust="spacingAndGlyphs">0</text>
<line x1="415.1" y1="390.84" x2="666.8" y2="390.84" stroke="#e0e0e0" stroke-width="1"/>
<text x="408.00" y="393.19" text-anchor="end" font-family='"Liberation Sans", sans-serif' font-size="8.1" fill="#595959" stroke="#595959" stroke-width="0.12" textLength="15.57" lengthAdjust="spacingAndGlyphs">5000</text>
<line x1="415.1" y1="362.38" x2="666.8" y2="362.38" stroke="#e0e0e0" stroke-width="1"/>
<text x="408.00" y="364.73" text-anchor="end" font-family='"Liberation Sans", sans-serif' font-size="8.1" fill="#595959" stroke="#595959" stroke-width="0.12" textLength="19.46" lengthAdjust="spacingAndGlyphs">10000</text>
<line x1="415.1" y1="333.92" x2="666.8" y2="333.92" stroke="#e0e0e0" stroke-width="1"/>
<text x="408.00" y="336.27" text-anchor="end" font-family='"Liberation Sans", sans-serif' font-size="8.1" fill="#595959" stroke="#595959" stroke-width="0.12" textLength="19.46" lengthAdjust="spacingAndGlyphs">15000</text>
<line x1="415.1" y1="305.46" x2="666.8" y2="305.46" stroke="#e0e0e0" stroke-width="1"/>
<text x="408.00" y="307.81" text-anchor="end" font-family='"Liberation Sans", sans-serif' font-size="8.1" fill="#595959" stroke="#595959" stroke-width="0.12" textLength="19.46" lengthAdjust="spacingAndGlyphs">20000</text>
<line x1="415.1" y1="277.00" x2="666.8" y2="277.00" stroke="#e0e0e0" stroke-width="1"/>
<text x="408.00" y="279.35" text-anchor="end" font-family='"Liberation Sans", sans-serif' font-size="8.1" fill="#595959" stroke="#595959" stroke-width="0.12" textLength="19.46" lengthAdjust="spacingAndGlyphs">25000</text>
<text x="674.20" y="421.65" font-family='"Liberation Sans", sans-serif' font-size="8.1" fill="#595959" stroke="#595959" stroke-width="0.12" textLength="13.62" lengthAdjust="spacingAndGlyphs">0.00</text>
<text x="674.20" y="397.93" font-family='"Liberation Sans", sans-serif' font-size="8.1" fill="#595959" stroke="#595959" stroke-width="0.12" textLength="13.62" lengthAdjust="spacingAndGlyphs">1.00</text>
<text x="674.20" y="374.22" font-family='"Liberation Sans", sans-serif' font-size="8.1" fill="#595959" stroke="#595959" stroke-width="0.12" textLength="13.62" lengthAdjust="spacingAndGlyphs">2.00</text>
<text x="674.20" y="350.50" font-family='"Liberation Sans", sans-serif' font-size="8.1" fill="#595959" stroke="#595959" stroke-width="0.12" textLength="13.62" lengthAdjust="spacingAndGlyphs">3.00</text>
<text x="674.20" y="326.78" font-family='"Liberation Sans", sans-serif' font-size="8.1" fill="#595959" stroke="#595959" stroke-width="0.12" textLength="13.62" lengthAdjust="spacingAndGlyphs">4.00</text>
<text x="674.20" y="303.07" font-family='"Liberation Sans", sans-serif' font-size="8.1" fill="#595959" stroke="#595959" stroke-width="0.12" textLength="13.62" lengthAdjust="spacingAndGlyphs">5.00</text>
<text x="674.20" y="279.35" font-family='"Liberation Sans", sans-serif' font-size="8.1" fill="#595959" stroke="#595959" stroke-width="0.12" textLength="13.62" lengthAdjust="spacingAndGlyphs">6.00</text>
<rect x="426.20" y="418.22" width="8.81" height="1.08" fill="#4472c4"/>
<rect x="437.74" y="416.51" width="8.81" height="2.79" fill="#ed7d31"/>
<text x="436.38" y="431.75" text-anchor="middle" font-family='"Liberation Sans", sans-serif' font-size="8.1" fill="#595959" stroke="#595959" stroke-width="0.12" textLength="7.78" lengthAdjust="spacingAndGlyphs">16</text>
<rect x="468.15" y="413.80" width="8.81" height="5.50" fill="#4472c4"/>
<rect x="479.69" y="408.99" width="8.81" height="10.31" fill="#ed7d31"/>
<text x="478.32" y="431.75" text-anchor="middle" font-family='"Liberation Sans", sans-serif' font-size="8.1" fill="#595959" stroke="#595959" stroke-width="0.12" textLength="7.78" lengthAdjust="spacingAndGlyphs">64</text>
<rect x="510.10" y="408.69" width="8.81" height="10.61" fill="#4472c4"/>
<rect x="521.64" y="388.18" width="8.81" height="31.12" fill="#ed7d31"/>
<text x="520.27" y="431.75" text-anchor="middle" font-family='"Liberation Sans", sans-serif' font-size="8.1" fill="#595959" stroke="#595959" stroke-width="0.12" textLength="11.68" lengthAdjust="spacingAndGlyphs">256</text>
<rect x="552.05" y="402.49" width="8.81" height="16.81" fill="#4472c4"/>
<rect x="563.59" y="350.85" width="8.81" height="68.45" fill="#ed7d31"/>
<text x="562.22" y="431.75" text-anchor="middle" font-family='"Liberation Sans", sans-serif' font-size="8.1" fill="#595959" stroke="#595959" stroke-width="0.12" textLength="15.57" lengthAdjust="spacingAndGlyphs">1024</text>
<rect x="594.00" y="399.18" width="8.81" height="20.12" fill="#4472c4"/>
<rect x="605.54" y="312.57" width="8.81" height="106.73" fill="#ed7d31"/>
<text x="604.17" y="431.75" text-anchor="middle" font-family='"Liberation Sans", sans-serif' font-size="8.1" fill="#595959" stroke="#595959" stroke-width="0.12" textLength="15.57" lengthAdjust="spacingAndGlyphs">8192</text>
<rect x="635.95" y="399.18" width="8.81" height="20.12" fill="#4472c4"/>
<rect x="647.49" y="308.28" width="8.81" height="111.02" fill="#ed7d31"/>
<text x="646.12" y="431.75" text-anchor="middle" font-family='"Liberation Sans", sans-serif' font-size="8.1" fill="#595959" stroke="#595959" stroke-width="0.12" textLength="19.46" lengthAdjust="spacingAndGlyphs">16384</text>
<polyline points="436.38,373.76 478.32,375.19 520.27,351.47 562.22,322.30 604.17,293.36 646.12,289.81" fill="none" stroke="#72ae4c" stroke-width="2.6" stroke-linejoin="round" stroke-linecap="round"/>
<text x="441.00" y="355.95" text-anchor="middle" font-family='"Liberation Sans", sans-serif' font-size="8.1" fill="#595959" stroke="#595959" stroke-width="0.12" textLength="13.62" lengthAdjust="spacingAndGlyphs">1.92</text>
<line x1="436.4" y1="372.8" x2="441.0" y2="358.1" stroke="#a0a0a0" stroke-width="1.0"/>
<text x="475.00" y="365.65" text-anchor="middle" font-family='"Liberation Sans", sans-serif' font-size="8.1" fill="#595959" stroke="#595959" stroke-width="0.12" textLength="13.62" lengthAdjust="spacingAndGlyphs">1.86</text>
<line x1="478.3" y1="374.2" x2="475.0" y2="367.8" stroke="#a0a0a0" stroke-width="1.0"/>
<text x="519.20" y="342.65" text-anchor="middle" font-family='"Liberation Sans", sans-serif' font-size="8.1" fill="#595959" stroke="#595959" stroke-width="0.12" textLength="13.62" lengthAdjust="spacingAndGlyphs">2.86</text>
<line x1="520.3" y1="350.5" x2="519.2" y2="344.8" stroke="#a0a0a0" stroke-width="1.0"/>
<text x="556.70" y="312.55" text-anchor="middle" font-family='"Liberation Sans", sans-serif' font-size="8.1" fill="#595959" stroke="#595959" stroke-width="0.12" textLength="13.62" lengthAdjust="spacingAndGlyphs">4.09</text>
<line x1="562.2" y1="321.3" x2="556.7" y2="314.7" stroke="#a0a0a0" stroke-width="1.0"/>
<text x="599.40" y="285.75" text-anchor="middle" font-family='"Liberation Sans", sans-serif' font-size="8.1" fill="#595959" stroke="#595959" stroke-width="0.12" textLength="13.62" lengthAdjust="spacingAndGlyphs">5.31</text>
<text x="641.80" y="280.65" text-anchor="middle" font-family='"Liberation Sans", sans-serif' font-size="8.1" fill="#595959" stroke="#595959" stroke-width="0.12" textLength="13.62" lengthAdjust="spacingAndGlyphs">5.46</text>
<line x1="646.1" y1="288.8" x2="641.8" y2="282.8" stroke="#a0a0a0" stroke-width="1.0"/>
<text transform="translate(380,349.4) rotate(-90)" x="0" y="0" text-anchor="middle" font-family='"Liberation Sans", sans-serif' font-size="7.6" fill="#595959" stroke="#595959" stroke-width="0.2" textLength="69.1" lengthAdjust="spacingAndGlyphs">Throughoutput(kB/s)</text>
<text transform="translate(700.5,348.1) rotate(-90)" x="0" y="0" text-anchor="middle" font-family='"Liberation Sans", sans-serif' font-size="7.3" fill="#595959" stroke="#595959" stroke-width="0.2" textLength="88.2" lengthAdjust="spacingAndGlyphs">vector K vs golden SpeedUp</text>
<rect x="461.2" y="446.3" width="18.8" height="3.6" fill="#4472c4"/>
<text x="482.2" y="450.6" font-family='"Liberation Sans", sans-serif' font-size="7.4" fill="#595959" stroke="#595959" stroke-width="0.2" textLength="18" lengthAdjust="spacingAndGlyphs">Scalar</text>
<rect x="510.8" y="446.3" width="18.8" height="3.6" fill="#ed7d31"/>
<text x="531.7" y="450.6" font-family='"Liberation Sans", sans-serif' font-size="7.4" fill="#595959" stroke="#595959" stroke-width="0.2" textLength="26.6" lengthAdjust="spacingAndGlyphs">Vector K</text>
<line x1="567.4" y1="448.1" x2="587.8" y2="448.1" stroke="#72ae4c" stroke-width="2.2"/>
<text x="588.7" y="450.6" font-family='"Liberation Sans", sans-serif' font-size="7.4" fill="#595959" stroke="#595959" stroke-width="0.2" textLength="28.9" lengthAdjust="spacingAndGlyphs">SpeedUp</text>
<rect x="725.40" y="246.20" width="346.40" height="215.50" fill="#fff" stroke="#dcdcdc" stroke-width="1.4"/>
<text x="859.2" y="263.2" font-family='"Liberation Sans", sans-serif' font-size="8.4" font-weight="bold" fill="#404040" stroke="#404040" stroke-width="0.3" textLength="95.9" lengthAdjust="spacingAndGlyphs">SM4-CBC(UX1030@50M)</text>
<line x1="766.2" y1="416.60" x2="1031.6" y2="416.60" stroke="#e0e0e0" stroke-width="1"/>
<text x="760.40" y="418.95" text-anchor="end" font-family='"Liberation Sans", sans-serif' font-size="8.1" fill="#595959" stroke="#595959" stroke-width="0.12" textLength="3.89" lengthAdjust="spacingAndGlyphs">0</text>
<line x1="766.2" y1="395.86" x2="1031.6" y2="395.86" stroke="#e0e0e0" stroke-width="1"/>
<text x="760.40" y="398.21" text-anchor="end" font-family='"Liberation Sans", sans-serif' font-size="8.1" fill="#595959" stroke="#595959" stroke-width="0.12" textLength="15.57" lengthAdjust="spacingAndGlyphs">2000</text>
<line x1="766.2" y1="375.11" x2="1031.6" y2="375.11" stroke="#e0e0e0" stroke-width="1"/>
<text x="760.40" y="377.46" text-anchor="end" font-family='"Liberation Sans", sans-serif' font-size="8.1" fill="#595959" stroke="#595959" stroke-width="0.12" textLength="15.57" lengthAdjust="spacingAndGlyphs">4000</text>
<line x1="766.2" y1="354.37" x2="1031.6" y2="354.37" stroke="#e0e0e0" stroke-width="1"/>
<text x="760.40" y="356.72" text-anchor="end" font-family='"Liberation Sans", sans-serif' font-size="8.1" fill="#595959" stroke="#595959" stroke-width="0.12" textLength="15.57" lengthAdjust="spacingAndGlyphs">6000</text>
<line x1="766.2" y1="333.63" x2="1031.6" y2="333.63" stroke="#e0e0e0" stroke-width="1"/>
<text x="760.40" y="335.98" text-anchor="end" font-family='"Liberation Sans", sans-serif' font-size="8.1" fill="#595959" stroke="#595959" stroke-width="0.12" textLength="15.57" lengthAdjust="spacingAndGlyphs">8000</text>
<line x1="766.2" y1="312.89" x2="1031.6" y2="312.89" stroke="#e0e0e0" stroke-width="1"/>
<text x="760.40" y="315.24" text-anchor="end" font-family='"Liberation Sans", sans-serif' font-size="8.1" fill="#595959" stroke="#595959" stroke-width="0.12" textLength="19.46" lengthAdjust="spacingAndGlyphs">10000</text>
<line x1="766.2" y1="292.14" x2="1031.6" y2="292.14" stroke="#e0e0e0" stroke-width="1"/>
<text x="760.40" y="294.49" text-anchor="end" font-family='"Liberation Sans", sans-serif' font-size="8.1" fill="#595959" stroke="#595959" stroke-width="0.12" textLength="19.46" lengthAdjust="spacingAndGlyphs">12000</text>
<line x1="766.2" y1="271.40" x2="1031.6" y2="271.40" stroke="#e0e0e0" stroke-width="1"/>
<text x="760.40" y="273.75" text-anchor="end" font-family='"Liberation Sans", sans-serif' font-size="8.1" fill="#595959" stroke="#595959" stroke-width="0.12" textLength="19.46" lengthAdjust="spacingAndGlyphs">14000</text>
<text x="1039.30" y="418.95" font-family='"Liberation Sans", sans-serif' font-size="8.1" fill="#595959" stroke="#595959" stroke-width="0.12" textLength="13.62" lengthAdjust="spacingAndGlyphs">0.00</text>
<text x="1039.30" y="402.82" font-family='"Liberation Sans", sans-serif' font-size="8.1" fill="#595959" stroke="#595959" stroke-width="0.12" textLength="13.62" lengthAdjust="spacingAndGlyphs">1.00</text>
<text x="1039.30" y="386.68" font-family='"Liberation Sans", sans-serif' font-size="8.1" fill="#595959" stroke="#595959" stroke-width="0.12" textLength="13.62" lengthAdjust="spacingAndGlyphs">2.00</text>
<text x="1039.30" y="370.55" font-family='"Liberation Sans", sans-serif' font-size="8.1" fill="#595959" stroke="#595959" stroke-width="0.12" textLength="13.62" lengthAdjust="spacingAndGlyphs">3.00</text>
<text x="1039.30" y="354.42" font-family='"Liberation Sans", sans-serif' font-size="8.1" fill="#595959" stroke="#595959" stroke-width="0.12" textLength="13.62" lengthAdjust="spacingAndGlyphs">4.00</text>
<text x="1039.30" y="338.28" font-family='"Liberation Sans", sans-serif' font-size="8.1" fill="#595959" stroke="#595959" stroke-width="0.12" textLength="13.62" lengthAdjust="spacingAndGlyphs">5.00</text>
<text x="1039.30" y="322.15" font-family='"Liberation Sans", sans-serif' font-size="8.1" fill="#595959" stroke="#595959" stroke-width="0.12" textLength="13.62" lengthAdjust="spacingAndGlyphs">6.00</text>
<text x="1039.30" y="306.02" font-family='"Liberation Sans", sans-serif' font-size="8.1" fill="#595959" stroke="#595959" stroke-width="0.12" textLength="13.62" lengthAdjust="spacingAndGlyphs">7.00</text>
<text x="1039.30" y="289.88" font-family='"Liberation Sans", sans-serif' font-size="8.1" fill="#595959" stroke="#595959" stroke-width="0.12" textLength="13.62" lengthAdjust="spacingAndGlyphs">8.00</text>
<text x="1039.30" y="273.75" font-family='"Liberation Sans", sans-serif' font-size="8.1" fill="#595959" stroke="#595959" stroke-width="0.12" textLength="13.62" lengthAdjust="spacingAndGlyphs">9.00</text>
<rect x="778.19" y="404.15" width="9.29" height="12.45" fill="#4472c4"/>
<rect x="790.35" y="333.80" width="9.29" height="82.80" fill="#ed7d31"/>
<text x="788.92" y="429.65" text-anchor="middle" font-family='"Liberation Sans", sans-serif' font-size="8.1" fill="#595959" stroke="#595959" stroke-width="0.12" textLength="7.78" lengthAdjust="spacingAndGlyphs">16</text>
<rect x="822.42" y="403.17" width="9.29" height="13.43" fill="#4472c4"/>
<rect x="834.59" y="306.30" width="9.29" height="110.30" fill="#ed7d31"/>
<text x="833.15" y="429.65" text-anchor="middle" font-family='"Liberation Sans", sans-serif' font-size="8.1" fill="#595959" stroke="#595959" stroke-width="0.12" textLength="7.78" lengthAdjust="spacingAndGlyphs">64</text>
<rect x="866.66" y="402.86" width="9.29" height="13.74" fill="#4472c4"/>
<rect x="878.82" y="297.50" width="9.29" height="119.10" fill="#ed7d31"/>
<text x="877.38" y="429.65" text-anchor="middle" font-family='"Liberation Sans", sans-serif' font-size="8.1" fill="#595959" stroke="#595959" stroke-width="0.12" textLength="11.68" lengthAdjust="spacingAndGlyphs">256</text>
<rect x="910.89" y="402.86" width="9.29" height="13.74" fill="#4472c4"/>
<rect x="923.05" y="295.80" width="9.29" height="120.80" fill="#ed7d31"/>
<text x="921.62" y="429.65" text-anchor="middle" font-family='"Liberation Sans", sans-serif' font-size="8.1" fill="#595959" stroke="#595959" stroke-width="0.12" textLength="15.57" lengthAdjust="spacingAndGlyphs">1024</text>
<rect x="955.12" y="402.86" width="9.29" height="13.74" fill="#4472c4"/>
<rect x="967.29" y="295.00" width="9.29" height="121.61" fill="#ed7d31"/>
<text x="965.85" y="429.65" text-anchor="middle" font-family='"Liberation Sans", sans-serif' font-size="8.1" fill="#595959" stroke="#595959" stroke-width="0.12" textLength="15.57" lengthAdjust="spacingAndGlyphs">8192</text>
<rect x="999.36" y="402.86" width="9.29" height="13.74" fill="#4472c4"/>
<rect x="1011.52" y="295.00" width="9.29" height="121.61" fill="#ed7d31"/>
<text x="1010.08" y="429.65" text-anchor="middle" font-family='"Liberation Sans", sans-serif' font-size="8.1" fill="#595959" stroke="#595959" stroke-width="0.12" textLength="19.46" lengthAdjust="spacingAndGlyphs">16384</text>
<polyline points="788.92,311.41 833.15,288.02 877.38,282.05 921.62,280.43 965.85,279.79 1010.08,279.63" fill="none" stroke="#72ae4c" stroke-width="2.6" stroke-linejoin="round" stroke-linecap="round"/>
<text x="793.80" y="293.65" text-anchor="middle" font-family='"Liberation Sans", sans-serif' font-size="8.1" fill="#595959" stroke="#595959" stroke-width="0.12" textLength="13.62" lengthAdjust="spacingAndGlyphs">6.52</text>
<line x1="788.9" y1="310.4" x2="793.8" y2="295.8" stroke="#a0a0a0" stroke-width="1.0"/>
<text x="830.00" y="278.65" text-anchor="middle" font-family='"Liberation Sans", sans-serif' font-size="8.1" fill="#595959" stroke="#595959" stroke-width="0.12" textLength="13.62" lengthAdjust="spacingAndGlyphs">7.97</text>
<line x1="833.1" y1="287.0" x2="830.0" y2="280.8" stroke="#a0a0a0" stroke-width="1.0"/>
<text x="876.30" y="273.15" text-anchor="middle" font-family='"Liberation Sans", sans-serif' font-size="8.1" fill="#595959" stroke="#595959" stroke-width="0.12" textLength="13.62" lengthAdjust="spacingAndGlyphs">8.34</text>
<line x1="877.4" y1="281.0" x2="876.3" y2="275.3" stroke="#a0a0a0" stroke-width="1.0"/>
<text x="916.30" y="271.15" text-anchor="middle" font-family='"Liberation Sans", sans-serif' font-size="8.1" fill="#595959" stroke="#595959" stroke-width="0.12" textLength="13.62" lengthAdjust="spacingAndGlyphs">8.44</text>
<line x1="921.6" y1="279.4" x2="916.3" y2="273.3" stroke="#a0a0a0" stroke-width="1.0"/>
<text x="961.30" y="272.35" text-anchor="middle" font-family='"Liberation Sans", sans-serif' font-size="8.1" fill="#595959" stroke="#595959" stroke-width="0.12" textLength="13.62" lengthAdjust="spacingAndGlyphs">8.48</text>
<text x="1006.30" y="271.15" text-anchor="middle" font-family='"Liberation Sans", sans-serif' font-size="8.1" fill="#595959" stroke="#595959" stroke-width="0.12" textLength="13.62" lengthAdjust="spacingAndGlyphs">8.49</text>
<line x1="1010.1" y1="278.6" x2="1006.3" y2="273.3" stroke="#a0a0a0" stroke-width="1.0"/>
<text transform="translate(741.4,349.9) rotate(-90)" x="0" y="0" text-anchor="middle" font-family='"Liberation Sans", sans-serif' font-size="7.6" fill="#595959" stroke="#595959" stroke-width="0.2" textLength="70.2" lengthAdjust="spacingAndGlyphs">Throughoutput(kB/s)</text>
<text transform="translate(1066,343.7) rotate(-90)" x="0" y="0" text-anchor="middle" font-family='"Liberation Sans", sans-serif' font-size="7.3" fill="#595959" stroke="#595959" stroke-width="0.2" textLength="89.2" lengthAdjust="spacingAndGlyphs">vector K vs golden SpeedUp</text>
<rect x="822.4" y="446.5" width="18.8" height="3.6" fill="#4472c4"/>
<text x="843.4" y="450.8" font-family='"Liberation Sans", sans-serif' font-size="7.4" fill="#595959" stroke="#595959" stroke-width="0.2" textLength="18" lengthAdjust="spacingAndGlyphs">Scalar</text>
<rect x="872.0" y="446.5" width="18.8" height="3.6" fill="#ed7d31"/>
<text x="892.9" y="450.8" font-family='"Liberation Sans", sans-serif' font-size="7.4" fill="#595959" stroke="#595959" stroke-width="0.2" textLength="26.6" lengthAdjust="spacingAndGlyphs">Vector K</text>
<line x1="928.6" y1="448.3" x2="949.0" y2="448.3" stroke="#72ae4c" stroke-width="2.2"/>
<text x="949.9" y="450.8" font-family='"Liberation Sans", sans-serif' font-size="7.4" fill="#595959" stroke="#595959" stroke-width="0.2" textLength="28.9" lengthAdjust="spacingAndGlyphs">SpeedUp</text>
</svg>
</body></html>
